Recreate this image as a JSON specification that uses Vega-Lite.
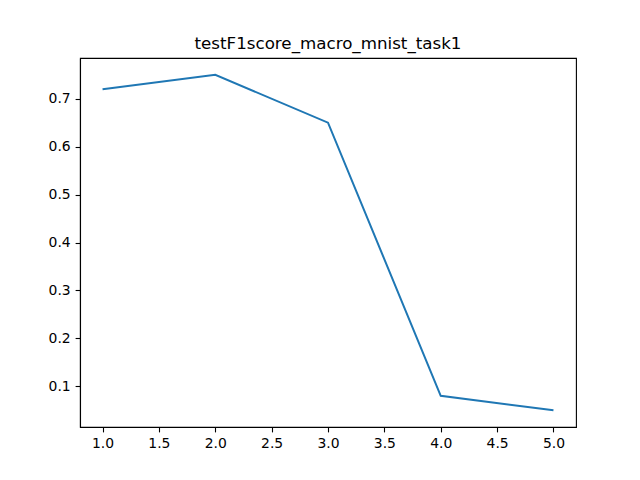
{
  "$schema": "https://vega.github.io/schema/vega-lite/v6.json",
  "autosize": "none",
  "width": 496,
  "height": 369,
  "padding": {"left": 80, "top": 58, "right": 64, "bottom": 53},
  "background": "white",
  "title": {"text": "testF1score_macro_mnist_task1", "font": "DejaVu Sans", "fontSize": 16.7, "fontWeight": "normal", "color": "black", "offset": 4, "baseline": "bottom", "anchor": "middle", "dy": 16},
  "data": {"values": [
    {"epoch": 1, "value": 0.72},
    {"epoch": 2, "value": 0.75},
    {"epoch": 3, "value": 0.65},
    {"epoch": 4, "value": 0.08},
    {"epoch": 5, "value": 0.05}
  ]},
  "mark": {"type": "line", "color": "#1f77b4", "strokeWidth": 2},
  "encoding": {
    "x": {"field": "epoch", "type": "quantitative", "scale": {"domain": [0.8, 5.2], "nice": false, "zero": false},
      "axis": {"title": null, "values": [1, 1.5, 2, 2.5, 3, 3.5, 4, 4.5, 5], "format": ".1f"}},
    "y": {"field": "value", "type": "quantitative", "scale": {"domain": [0.015, 0.785], "nice": false, "zero": false},
      "axis": {"title": null, "values": [0.1, 0.2, 0.3, 0.4, 0.5, 0.6, 0.7], "format": ".1f"}}
  },
  "config": {
    "view": {"stroke": "black", "strokeWidth": 1.1},
    "axis": {"grid": false, "domainColor": "black", "domainWidth": 1.1, "tickColor": "black", "tickSize": 4.9, "tickWidth": 1.1,
      "labelColor": "black", "labelFont": "DejaVu Sans", "labelFontSize": 13.9, "labelPadding": 4.9}
  }
}
